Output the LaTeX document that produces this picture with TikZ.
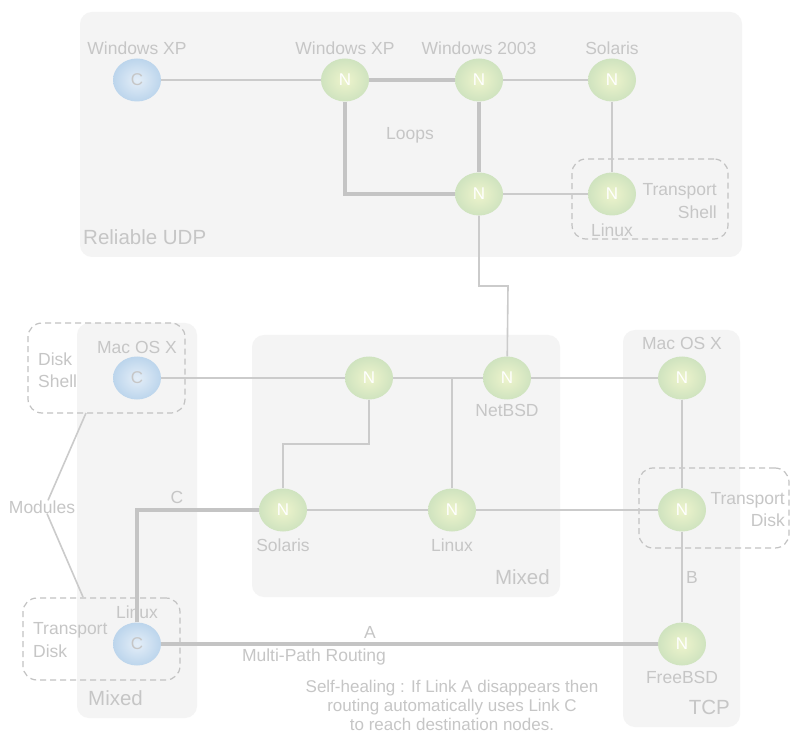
\documentclass[tikz,border=0pt]{standalone}
\usepackage{fontspec}
\setmainfont{Liberation Sans}
\usetikzlibrary{shapes.geometric}

\definecolor{panelgray}{HTML}{F4F4F4}
\definecolor{linegray}{HTML}{CBCBCB}
\definecolor{thickgray}{HTML}{C4C4C4}
\definecolor{dashgray}{HTML}{C2C2C2}
\definecolor{txtgray}{HTML}{C6C6C6}
\definecolor{cin}{HTML}{E4EEF8}
\definecolor{cout}{HTML}{BCD5EC}
\definecolor{nin}{HTML}{EEF4CC}
\definecolor{nout}{HTML}{CFE3BF}

\tikzset{
  panel/.style={fill=panelgray,draw=none,rounded corners=12pt},
  modbox/.style={draw=dashgray,dash pattern=on 6pt off 4pt,rounded corners=14pt,line width=1.2pt,inner sep=0pt},
  cnode/.style={ellipse,minimum width=48pt,minimum height=43pt,inner sep=0pt,shading=radial,inner color=cin,outer color=cout,text=txtgray,font=\fontsize{17}{17}\selectfont},
  nnode/.style={ellipse,minimum width=48pt,minimum height=43pt,inner sep=0pt,shading=radial,inner color=nin,outer color=nout,text=white,font=\fontsize{17}{17}\selectfont},
  lbl/.style={text=txtgray,font=\fontsize{17.5}{20}\selectfont,inner sep=0pt},
  grp/.style={text=txtgray,font=\fontsize{20.5}{24}\selectfont,inner sep=0pt},
  link/.style={draw=linegray,line width=1.6pt},
  mainlink/.style={draw=thickgray,line width=4.5pt},
}

\begin{document}
\begin{tikzpicture}[x=1pt,y=-1pt]
\useasboundingbox[fill=white] (0,0) rectangle (790,735);

% panels
\fill[panel] (80,12) rectangle (742,257);
\fill[panel] (77,323) rectangle (197,718);
\fill[panel] (252,335) rectangle (560,597);
\fill[panel] (623,330) rectangle (740,727);

% module boxes
\node[modbox,minimum width=156pt,minimum height=80pt] (shellT) at (650,199) {};
\node[modbox,minimum width=157pt,minimum height=90pt] (shellL) at (106.5,368) {};
\node[modbox,minimum width=157pt,minimum height=82pt] (diskL) at (101.5,639) {};
\node[modbox,minimum width=150pt,minimum height=80pt] (diskR) at (714,508) {};

% reliable udp
\node[cnode] (C1) at (137,80) {C};
\node[nnode] (N1) at (345,80) {N};
\node[nnode] (N2) at (479,80) {N};
\node[nnode] (N3) at (612,80) {N};
\node[nnode] (N4) at (479,194) {N};
\node[nnode] (N5) at (612,194) {N};
\node[lbl] (lC1) at (137,48) {Windows XP};
\node[lbl] (lN1) at (345,48) {Windows XP};
\node[lbl] (lN2) at (479,48) {Windows 2003};
\node[lbl] (lN3) at (612,48) {Solaris};
\node[lbl] (lN5) at (612,230) {Linux};
\node[lbl] (loops) at (410,135) {Loops};
\node[lbl,anchor=east] (tsT1) at (717,191) {Transport};
\node[lbl,anchor=east] (tsT2) at (717,212) {Shell};
\node[grp,anchor=west] (gUDP) at (83,237) {Reliable UDP};

% mixed (left)
\node[cnode] (MacC) at (137,378) {C};
\node[cnode] (LinuxC) at (137,644) {C};
\node[lbl] (lMacC) at (137,347) {Mac OS X};
\node[lbl] (lLinuxC) at (137,612) {Linux};
\node[lbl,anchor=west] (dsL1) at (38,359) {Disk};
\node[lbl,anchor=west] (dsL2) at (38,381) {Shell};
\node[lbl,anchor=west] (tdL1) at (33,630) {Transport};
\node[lbl,anchor=west] (tdL2) at (33,651) {Disk};
\node[lbl] (Modules) at (42,507) {Modules};
\node[grp,anchor=west] (gMixL) at (88,698) {Mixed};

% mixed (centre)
\node[nnode] (M1) at (369,378) {N};
\node[nnode] (NetBSD) at (507,378) {N};
\node[nnode] (SolarisM) at (283,510) {N};
\node[nnode] (LinuxM) at (452,510) {N};
\node[lbl] (lNetBSD) at (507,410) {NetBSD};
\node[lbl] (lSolarisM) at (283,545) {Solaris};
\node[lbl] (lLinuxM) at (452,545) {Linux};
\node[grp,anchor=east] (gMixC) at (550,577) {Mixed};

% tcp
\node[nnode] (TMac) at (682,378) {N};
\node[nnode] (TTrans) at (682,510) {N};
\node[nnode] (FreeBSD) at (682,644) {N};
\node[lbl] (lTMac) at (682,343) {Mac OS X};
\node[lbl] (lFreeBSD) at (682,677) {FreeBSD};
\node[lbl,anchor=east] (tdR1) at (785,500) {Transport};
\node[lbl,anchor=east] (tdR2) at (785,520) {Disk};
\node[grp,anchor=east] (gTCP) at (730,707) {TCP};

% link labels
\node[lbl] (linkC) at (177,497) {C};
\node[lbl] (linkA) at (370,632) {A};
\node[lbl] (linkB) at (692,577) {B};
\node[lbl] (mpr) at (314,657) {Multi-Path Routing};
\node[lbl,align=center,font=\fontsize{17}{19}\selectfont] (heal) at (452,705)
  {Self-healing : If Link A disappears then\\routing automatically uses Link C\\to reach destination nodes.};

% bends
\coordinate (jog) at (508,286);
\coordinate (mbend) at (369,444);
\coordinate (modtop) at (86,413);
\coordinate (modbot) at (83,597);

% links
\draw[link] (C1) -- (N1);
\draw[link] (N2) -- (N3);
\draw[link] (N3) -- (N5);
\draw[link] (N4) -- (N5);
\draw[mainlink] (N1) -- (N2);
\draw[mainlink] (N2) -- (N4);
\draw[mainlink] (N4) -| (N1);
\draw[link] (N4) |- (jog) -- (NetBSD);
\draw[link] (MacC) -- (M1);
\draw[link] (M1) -- (NetBSD);
\draw[link] (LinuxM) -- (LinuxM |- M1);
\draw[link] (M1) -- (mbend) -| (SolarisM);
\draw[link] (SolarisM) -- (LinuxM);
\draw[link] (LinuxM) -- (TTrans);
\draw[link] (NetBSD) -- (TMac);
\draw[link] (TMac) -- (TTrans);
\draw[link] (TTrans) -- (FreeBSD);
\draw[mainlink] (LinuxC) |- (SolarisM);
\draw[mainlink] (LinuxC) -- (FreeBSD);
\draw[link] ([xshift=6pt]Modules.north) -- (modtop);
\draw[link] ([xshift=5pt]Modules.south) -- (modbot);

\end{tikzpicture}
\end{document}
